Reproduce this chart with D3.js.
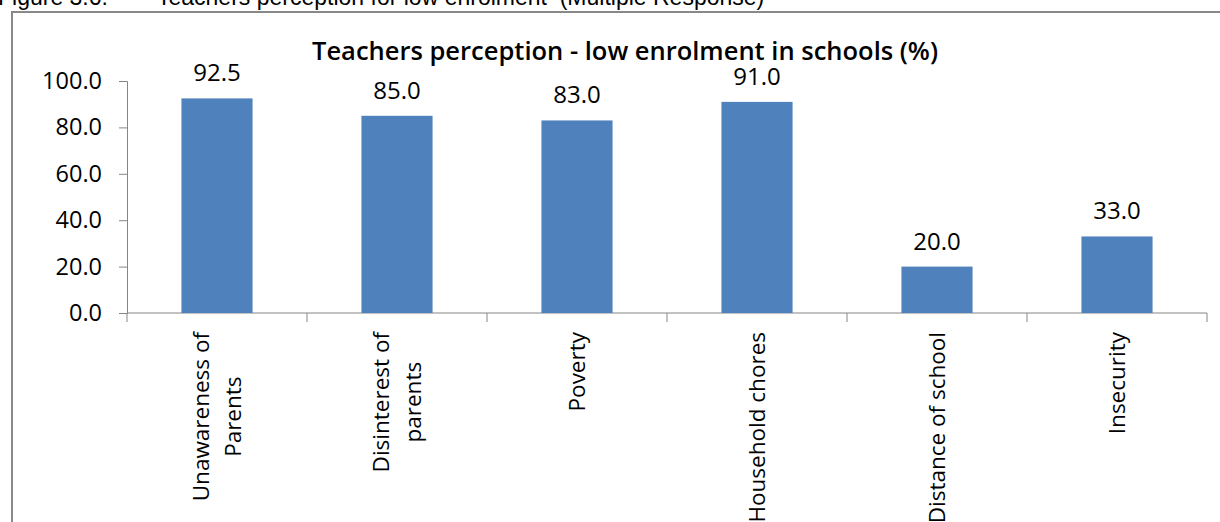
<!DOCTYPE html>
<html lang="en">
<head>
  <meta charset="UTF-8">
  <title>Teachers perception - low enrolment in schools</title>
  <style>
    html, body { margin: 0; padding: 0; background: #fff; }
    svg { display: block; }
    .lbl { font-family: "Open Sans", sans-serif; fill: #000; }
  </style>
</head>
<body>
  <svg id="chart" width="1220" height="522"></svg>

  <script src="https://d3js.org/d3.v7.min.js"></script>
  <script>
    const categories = [
      ["Unawareness of", "Parents"],
      ["Disinterest of", "parents"],
      ["Poverty"],
      ["Household chores"],
      ["Distance of school"],
      ["Insecurity"]
    ];
    const values = [92.5, 85.0, 83.0, 91.0, 20.0, 33.0];
    const yTicks = [0, 20, 40, 60, 80, 100];

    const svg = d3.select("#chart");
    const margin = { left: 127, right: 13, top: 81, bottom: 209 };
    const width = 1220, height = 522;

    // frame around the chart (goes off the bottom/right of the picture)
    svg.append("rect")
      .attr("x", 12).attr("y", 12)
      .attr("width", 1240).attr("height", 540)
      .attr("fill", "none").attr("stroke", "#898989").attr("stroke-width", 2);

    // figure caption, mostly cut off at the top
    const cap = svg.append("g")
      .style("font-family", "'Liberation Sans', Arial, sans-serif")
      .style("font-size", "23px");
    cap.append("text").attr("x", -2).attr("y", 5).text("Figure 3.6:");
    cap.append("text").attr("x", 157).attr("y", 5).attr("xml:space", "preserve")
      .text("Teachers perception for low enrolment  (Multiple Response)");

    const x = d3.scaleBand()
      .domain(d3.range(values.length))
      .range([margin.left, width - margin.right])
      .paddingInner(0.605).paddingOuter(0.3025);
    const y = d3.scaleLinear().domain([0, 100]).range([height - margin.bottom, margin.top]);

    // title
    svg.append("text").attr("class", "lbl")
      .attr("x", 625).attr("y", 60)
      .attr("text-anchor", "middle")
      .style("font-size", "25.5px").style("font-weight", 600)
      .text("Teachers perception - low enrolment in schools (%)");

    // y axis
    const yAxis = svg.append("g")
      .attr("transform", `translate(${margin.left},0)`)
      .call(d3.axisLeft(y).tickValues(yTicks).tickFormat(d3.format(".1f")).tickSize(8).tickPadding(17));
    yAxis.select(".domain").attr("stroke", "#868686");
    yAxis.selectAll(".tick line").attr("stroke", "#868686");
    yAxis.selectAll(".tick text").attr("class", "lbl").style("font-size", "23.5px").attr("fill", "#000");

    // x axis line and boundary ticks
    const y0 = y(0);
    svg.append("line")
      .attr("x1", margin.left).attr("x2", width - margin.right)
      .attr("y1", y0).attr("y2", y0)
      .attr("stroke", "#868686");
    const bounds = d3.range(values.length + 1).map(i => margin.left + i * x.step());
    svg.append("g").selectAll("line")
      .data(bounds)
      .join("line")
      .attr("x1", d => d).attr("x2", d => d)
      .attr("y1", y0).attr("y2", y0 + 9)
      .attr("stroke", "#868686");

    // bars
    svg.append("g").selectAll("rect")
      .data(values)
      .join("rect")
      .attr("x", (d, i) => x(i))
      .attr("y", d => y(d))
      .attr("width", x.bandwidth())
      .attr("height", d => y0 - y(d))
      .attr("fill", "#4F81BD");

    // value labels
    svg.append("g").selectAll("text")
      .data(values)
      .join("text")
      .attr("class", "lbl")
      .attr("x", (d, i) => x(i) + x.bandwidth() / 2)
      .attr("y", d => y(d) - 17)
      .attr("text-anchor", "middle")
      .style("font-size", "24px")
      .text(d => d3.format(".1f")(d));

    // rotated category labels, lines centred on each other
    const lineGap = 32;
    const labelTop = y0 + 19;
    categories.forEach((lines, i) => {
      const cx = x(i) + x.bandwidth() / 2;
      const g = svg.append("g");
      const texts = lines.map(t => g.append("text")
        .attr("class", "lbl")
        .attr("text-anchor", "middle")
        .attr("dy", "0.35em")
        .style("font-size", "22.5px")
        .text(t));
      const maxLen = d3.max(texts, t => t.node().getComputedTextLength());
      texts.forEach((t, j) => {
        const lx = cx + (j - (lines.length - 1) / 2) * lineGap;
        t.attr("transform", `translate(${lx},${labelTop + maxLen / 2}) rotate(-90)`);
      });
    });
  </script>
</body>
</html>
